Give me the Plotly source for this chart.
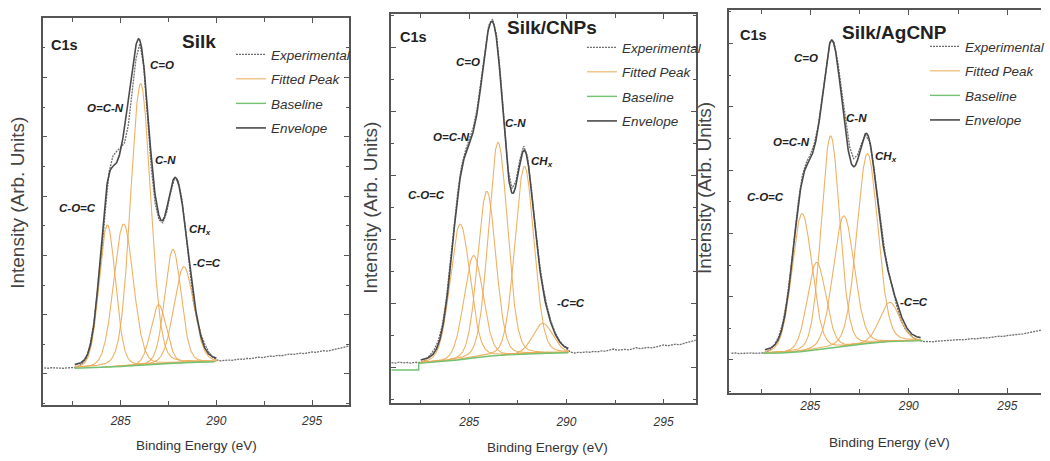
import numpy as np
import plotly.graph_objects as go

W, H = 1050, 461

# Binding-energy sampling of the measured C1s spectra (eV)
exp_energy = [281.0, 281.2, 281.4, 281.6, 281.8, 282.0, 282.2, 282.4, 282.6, 282.8,
              283.0, 283.2, 283.4, 283.6, 283.8, 284.0, 284.2, 284.4, 284.6, 284.8,
              285.0, 285.2, 285.4, 285.6, 285.8, 286.0, 286.2, 286.4, 286.6, 286.8,
              287.0, 287.2, 287.4, 287.6, 287.8, 288.0, 288.2, 288.4, 288.6, 288.8,
              289.0, 289.2, 289.4, 289.6, 289.8, 290.0, 290.2, 290.4, 290.6, 290.8,
              291.0, 291.2, 291.4, 291.6, 291.8, 292.0, 292.2, 292.4, 292.6, 292.8,
              293.0, 293.2, 293.4, 293.6, 293.8, 294.0, 294.2, 294.4, 294.6, 294.8,
              295.0, 295.2, 295.4, 295.6, 295.8, 296.0, 296.2, 296.4, 296.6, 296.8,
              297.0]

# ---------------- Silk ----------------
silk_exp = [0.102, 0.097, 0.105, 0.099, 0.103, 0.096, 0.104, 0.100, 0.108, 0.130,
            0.180, 0.260, 0.500, 0.850, 1.380, 2.000, 2.780, 3.420, 3.680, 3.760,
            3.820, 3.900, 4.200, 4.750, 5.320, 5.570, 5.200, 4.350, 3.470, 2.880,
            2.600, 2.550, 2.720, 3.050, 3.280, 3.270, 2.950, 2.400, 1.750, 1.220,
            0.900, 0.660, 0.500, 0.370, 0.290, 0.238, 0.221, 0.229, 0.236, 0.231,
            0.245, 0.252, 0.247, 0.262, 0.258, 0.271, 0.284, 0.276, 0.291, 0.302,
            0.296, 0.313, 0.307, 0.324, 0.335, 0.329, 0.346, 0.352, 0.344, 0.362,
            0.371, 0.366, 0.384, 0.392, 0.386, 0.405, 0.414, 0.431, 0.446, 0.462,
            0.480]
silk_centers = [284.30, 285.15, 286.04, 286.98, 287.73, 288.30]
silk_heights = [2.40, 2.40, 4.75, 1.00, 1.92, 1.62]
silk_fwhm = [1.00, 1.20, 1.22, 0.95, 1.00, 1.20]
silk_base_e = [282.6, 284.0, 285.0, 286.0, 287.0, 288.0, 289.0, 289.9]
silk_base_i = [0.096, 0.110, 0.126, 0.147, 0.169, 0.186, 0.199, 0.207]

# ---------------- Silk/CNPs ----------------
cnp_exp = [0.070, 0.062, 0.075, 0.066, 0.071, 0.060, 0.074, 0.068, 0.085, 0.125,
           0.195, 0.275, 0.404, 0.635, 1.008, 1.525, 2.132, 2.712, 3.135, 3.376,
           3.542, 3.737, 4.024, 4.452, 4.958, 5.337, 5.436, 5.195, 4.581, 3.767,
           3.087, 2.788, 2.903, 3.237, 3.452, 3.285, 2.782, 2.176, 1.647, 1.250,
           0.950, 0.720, 0.550, 0.430, 0.350, 0.290, 0.235, 0.219, 0.228, 0.225,
           0.236, 0.231, 0.243, 0.238, 0.252, 0.247, 0.259, 0.281, 0.262, 0.271,
           0.276, 0.268, 0.285, 0.301, 0.288, 0.297, 0.305, 0.299, 0.318, 0.326,
           0.345, 0.331, 0.342, 0.356, 0.349, 0.367, 0.374, 0.392, 0.420, 0.430,
           0.440]
cnp_centers = [284.53, 285.22, 285.90, 286.48, 287.84, 288.78]
cnp_heights = [2.12, 1.60, 2.58, 3.33, 2.93, 0.47]
cnp_fwhm = [1.20, 1.15, 1.10, 1.15, 1.15, 1.20]
cnp_base_e = [281.0, 282.4, 282.4, 283.5, 284.4, 285.2, 286.1, 287.0, 287.8, 289.0, 290.1]
cnp_base_i = [-0.047, -0.047, 0.058, 0.080, 0.109, 0.140, 0.172, 0.190, 0.203, 0.215, 0.223]

# ---------------- Silk/AgCNP ----------------
ag_exp = [0.106, 0.110, 0.102, 0.108, 0.104, 0.111, 0.105, 0.109, 0.112, 0.130,
          0.170, 0.250, 0.370, 0.580, 0.920, 1.400, 1.970, 2.520, 2.920, 3.120,
          3.240, 3.410, 3.700, 4.140, 4.650, 5.020, 5.030, 4.700, 4.240, 3.760,
          3.360, 3.180, 3.240, 3.420, 3.550, 3.460, 3.110, 2.620, 2.120, 1.680,
          1.360, 1.080, 0.840, 0.630, 0.500, 0.420, 0.360, 0.320, 0.300, 0.289,
          0.292, 0.287, 0.296, 0.301, 0.298, 0.309, 0.305, 0.316, 0.322, 0.318,
          0.331, 0.337, 0.333, 0.346, 0.352, 0.348, 0.362, 0.368, 0.375, 0.371,
          0.386, 0.392, 0.401, 0.397, 0.412, 0.425, 0.438, 0.452, 0.468, 0.480,
          0.490]
ag_centers = [284.58, 285.32, 286.03, 286.70, 287.90, 289.03]
ag_heights = [2.18, 1.38, 3.35, 2.06, 3.00, 0.62]
ag_fwhm = [1.20, 1.10, 1.10, 1.25, 1.25, 1.20]
ag_base_e = [282.6, 283.5, 284.5, 285.0, 286.0, 287.0, 288.0, 289.0, 290.7]
ag_base_i = [0.106, 0.110, 0.130, 0.150, 0.190, 0.230, 0.265, 0.290, 0.305]

peak_names = ["C-O=C", "O=C-N", "C=O", "C-N", "CH<sub>x</sub>", "-C=C"]
tick_values = [285, 290, 295]
tick_labels = ["285", "290", "295"]

ETA = 0.12  # Lorentzian share of the pseudo-Voigt line shape


def line_shape(e, c, h, w):
    g = np.exp(-4 * np.log(2) * ((e - c) / w) ** 2)
    lor = 1.0 / (1.0 + 4 * ((e - c) / w) ** 2)
    return h * ((1 - ETA) * g + ETA * lor)


panels = [
    dict(title="Silk", centers=silk_centers, heights=silk_heights, fwhm=silk_fwhm,
         base_e=silk_base_e, base_i=silk_base_i, exp_i=silk_exp,
         fit=(282.6, 290.0), box=(43, 352, 18, 405), xr=(280.92, 296.93), yr=(-0.523, 6.003),
         labels=[(282.74, 2.80), (284.19, 4.49), (287.14, 5.21), (287.35, 3.61), (289.16, 2.43), (289.52, 1.87)],
         title_pos=(289.11, 5.60), c1s_pos=(282.06, 5.55), legend_pos=(233, 39),
         ytitle=(18, 203), xtitle=(198.5, 445), right_line=True, standoff=4),
    dict(title="Silk/CNPs", centers=cnp_centers, heights=cnp_heights, fwhm=cnp_fwhm,
         base_e=cnp_base_e, base_i=cnp_base_i, exp_i=cnp_exp,
         fit=(282.5, 290.1), box=(394.3, 701.7, 14, 403.3), xr=(280.97, 296.65), yr=(-0.567, 5.516),
         labels=[(282.79, 2.69), (284.07, 3.59), (284.93, 4.77), (287.38, 3.81), (288.76, 3.20), (290.24, 1.00)],
         title_pos=(289.27, 5.31), c1s_pos=(282.13, 5.16), legend_pos=(587, 32),
         ytitle=(373, 208), xtitle=(552, 447), right_line=True, standoff=7),
    dict(title="Silk/AgCNP", centers=ag_centers, heights=ag_heights, fwhm=ag_fwhm,
         base_e=ag_base_e, base_i=ag_base_i, exp_i=ag_exp,
         fit=(282.7, 290.6), box=(735, 1050, 10, 392.7), xr=(280.86, 296.71), yr=(-0.517, 5.529),
         labels=[(282.72, 2.58), (284.03, 3.44), (284.78, 4.77), (287.35, 3.82), (288.86, 3.21), (290.27, 0.92)],
         title_pos=(289.26, 5.18), c1s_pos=(282.11, 5.13), legend_pos=(933, 31),
         ytitle=(710, 188), xtitle=(897, 442), right_line=False, standoff=1),
]

ORANGE = "rgba(236,168,84,0.9)"
GREEN = "#72c272"
ENVELOPE = "#4a4a4a"
EXPERIMENTAL = "#6e6e6e"
AXIS = "#555555"
TEXT = "#222222"
FONT = "Liberation Sans, Arial, sans-serif"

fig = go.Figure()
layout = dict(width=W, height=H, margin=dict(l=0, r=0, t=0, b=0),
              paper_bgcolor="white", plot_bgcolor="white", annotations=[])

for k, p in enumerate(panels, start=1):
    xa = "x" if k == 1 else f"x{k}"
    ya = "y" if k == 1 else f"y{k}"
    leg = "legend" if k == 1 else f"legend{k}"
    grid = np.arange(p["fit"][0], p["fit"][1] + 1e-9, 0.02)
    base = np.interp(grid, p["base_e"], p["base_i"])

    fig.add_trace(go.Scatter(x=exp_energy, y=p["exp_i"], xaxis=xa, yaxis=ya, mode="lines",
                             line=dict(color=EXPERIMENTAL, width=1.3, dash="2px,1px"),
                             name="Experimental", legend=leg, legendgroup=f"exp{k}"))
    total = np.zeros_like(grid)
    for j, (c, h, w) in enumerate(zip(p["centers"], p["heights"], p["fwhm"])):
        comp = line_shape(grid, c, h, w)
        total += comp
        keep = comp > 0.004
        fig.add_trace(go.Scatter(x=grid[keep], y=(base + comp)[keep], xaxis=xa, yaxis=ya, mode="lines",
                                 line=dict(color=ORANGE, width=1.1), name="Fitted Peak",
                                 legend=leg, legendgroup=f"fit{k}", showlegend=(j == 0)))
    fig.add_trace(go.Scatter(x=p["base_e"], y=p["base_i"], xaxis=xa, yaxis=ya, mode="lines",
                             line=dict(color=GREEN, width=1.4), name="Baseline",
                             legend=leg, legendgroup=f"base{k}"))
    fig.add_trace(go.Scatter(x=grid, y=base + total, xaxis=xa, yaxis=ya, mode="lines",
                             line=dict(color=ENVELOPE, width=1.6), name="Envelope",
                             legend=leg, legendgroup=f"env{k}"))

    x0, x1, y0, y1 = p["box"]
    axis_common = dict(showline=True, linecolor=AXIS, linewidth=1.5, showgrid=False, zeroline=False,
                       ticks="inside", tickcolor=AXIS, ticklen=5, tickwidth=1.2)
    layout[f"xaxis{'' if k == 1 else k}"] = dict(
        axis_common, domain=[x0 / W, min(x1 / W, 1.0)], range=list(p["xr"]), anchor=ya,
        mirror="ticks", tickvals=tick_values, ticktext=tick_labels, ticklabelstandoff=p["standoff"],
        tickfont=dict(family=FONT, size=12, color="#333333", style="italic"),
        minor=dict(tickvals=[282.5, 287.5, 292.5], ticks="inside", ticklen=4, tickcolor=AXIS))
    layout[f"yaxis{'' if k == 1 else k}"] = dict(
        axis_common, domain=[1 - y1 / H, 1 - y0 / H], range=list(p["yr"]), anchor=xa,
        mirror="ticks" if p["right_line"] else False, tick0=0, dtick=1, showticklabels=False,
        minor=dict(dtick=0.5, ticks="inside", ticklen=3, tickcolor=AXIS))
    lx, ly = p["legend_pos"]
    layout[leg] = dict(x=lx / W, y=1 - ly / H, xanchor="left", yanchor="top",
                       bgcolor="rgba(0,0,0,0)", itemwidth=30, tracegroupgap=4, traceorder="grouped",
                       font=dict(family=FONT, size=13.5, color="#333333", style="italic"))

    for name, (ex, ey) in zip(peak_names, p["labels"]):
        layout["annotations"].append(dict(x=ex, y=ey, xref=xa, yref=ya, text=name, showarrow=False,
                                          xanchor="center", yanchor="middle",
                                          font=dict(family=FONT, size=11.5, color=TEXT,
                                                    style="italic", weight="bold")))
    layout["annotations"].append(dict(x=p["title_pos"][0], y=p["title_pos"][1], xref=xa, yref=ya,
                                      text=p["title"], showarrow=False, xanchor="center", yanchor="middle",
                                      font=dict(family=FONT, size=19, color=TEXT, weight="bold")))
    layout["annotations"].append(dict(x=p["c1s_pos"][0], y=p["c1s_pos"][1], xref=xa, yref=ya,
                                      text="C1s", showarrow=False, xanchor="center", yanchor="middle",
                                      font=dict(family=FONT, size=14.5, color=TEXT, weight="bold")))
    tx, ty = p["ytitle"]
    layout["annotations"].append(dict(x=tx / W, y=1 - ty / H, xref="paper", yref="paper",
                                      text="Intensity (Arb. Units)", textangle=-90, showarrow=False,
                                      xanchor="center", yanchor="middle",
                                      font=dict(family=FONT, size=19, color="#444444")))
    tx, ty = p["xtitle"]
    layout["annotations"].append(dict(x=tx / W, y=1 - ty / H, xref="paper", yref="paper",
                                      text="Binding Energy (eV)", showarrow=False,
                                      xanchor="center", yanchor="middle",
                                      font=dict(family=FONT, size=13.5, color="#333333")))

fig.update_layout(**layout)
fig.write_html("out.html")
